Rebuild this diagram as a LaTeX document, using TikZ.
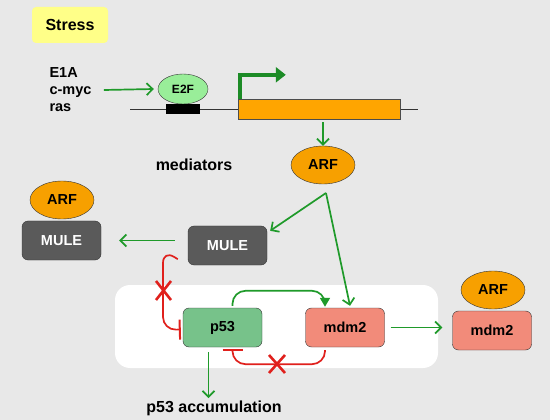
\documentclass[tikz,border=0pt]{standalone}
\usepackage{fontspec}
\setmainfont{Liberation Sans}
\usetikzlibrary{arrows.meta,shapes.geometric}
\definecolor{bgc}{HTML}{E8E8E8}
\definecolor{yel}{HTML}{FFFF88}
\definecolor{lgreen}{HTML}{99EE99}
\definecolor{orng}{HTML}{FFA500}
\definecolor{arfc}{HTML}{F7A000}
\definecolor{mulec}{HTML}{5A5A5A}
\definecolor{p53c}{HTML}{77C28A}
\definecolor{mdmc}{HTML}{F28B7A}
\definecolor{garr}{HTML}{1F9A2A}
\definecolor{rinh}{HTML}{E0201C}
\begin{document}
\begin{tikzpicture}[x=1pt,y=-1pt,
  lbl/.style={font=\bfseries\fontsize{14.5}{17}\selectfont},
  biglbl/.style={font=\bfseries\fontsize{16}{19}\selectfont},
  stressbox/.style={fill=yel,rounded corners=4pt,minimum width=76pt,minimum height=36pt,font=\bfseries\fontsize{16}{19}\selectfont},
  e2fnode/.style={ellipse,draw=black!80,fill=lgreen,minimum width=50pt,minimum height=30pt,inner sep=0pt,font=\bfseries\fontsize{12}{14}\selectfont},
  arfnode/.style={ellipse,draw=black!80,fill=arfc,minimum width=64pt,minimum height=38pt,inner sep=0pt,lbl},
  genebox/.style={draw=black!70,fill=orng,minimum width=162pt,minimum height=20pt,inner sep=0pt},
  site/.style={fill=black,minimum width=34pt,minimum height=10pt,inner sep=0pt},
  protbox/.style={draw=black!80,rounded corners=6pt,minimum width=79pt,minimum height=39pt,inner sep=0pt,lbl},
  mulebox/.style={protbox,fill=mulec,text=white},
  p53box/.style={protbox,fill=p53c},
  mdmbox/.style={protbox,fill=mdmc},
  panel/.style={fill=white,rounded corners=15pt,minimum width=323pt,minimum height=83pt,inner sep=0pt},
  garrow/.style={draw=garr,line width=1.7pt,-{Straight Barb[length=6pt,width=12pt]}},
  gcurve/.style={draw=garr,line width=1.7pt,rounded corners=13pt,-{Triangle[length=9pt,width=10pt]}},
  promoter/.style={draw=garr!90!black,line width=4pt,-{Triangle[length=10pt,width=15pt]}},
  inhib/.style={draw=rinh,line width=1.7pt,rounded corners=13pt,-{Bar[width=20pt,line width=2pt]}},
  xmark/.style={draw=rinh,line width=2.6pt}
]
\useasboundingbox[fill=bgc] (0,0) rectangle (550,420);

% top
\node[stressbox] (stress) at (70,25) {Stress};
\node[lbl,align=left,anchor=west] (inducers) at (46,90) {E1A\\c-myc\\ras};
\node[e2fnode] (e2f) at (183,89) {E2F};
\coordinate (dnaL) at (130,109);
\coordinate (dnaR) at (418,109);
\draw[black!80,line width=0.8pt] (dnaL) -- (dnaR);
\node[site] (bsite) at (183,109) {};
\node[genebox] (gene) at (319,109) {};
\draw[promoter] ([xshift=2pt]gene.north west) |- ([xshift=48pt,yshift=24pt]gene.north west);
\draw[garrow] ([xshift=9pt]inducers.east) -- ([xshift=-4pt]e2f.west);

\node[arfnode] (arf) at (323,165) {ARF};
\draw[garrow] ([yshift=-3pt]gene.south -| arf.north) -- (arf.north);
\node[biglbl] (mediators) at (194,165) {mediators};

% MULE
\node[arfnode] (arf2) at (62,200) {ARF};
\node[mulebox] (mule1) at (61.5,240.5) {MULE};
\node[mulebox] (mule2) at (227.5,245.5) {MULE};
\coordinate (split) at (326,193);
\draw[garrow] (split) -- ([xshift=3pt,yshift=-5pt]mule2.north east);
\draw[garrow] ([xshift=-13pt,yshift=5pt]mule2.west) -- ([xshift=18pt]mule1.east);

% panel
\node[panel] (panelbg) at (276.5,326.5) {};
\node[p53box] (p53) at (222.5,327.5) {p53};
\node[mdmbox] (mdm2) at (345,327.5) {mdm2};
\draw[garrow] (split) -- ([xshift=5pt,yshift=2pt]mdm2.north);

\node[arfnode] (arf3) at (493,290) {ARF};
\node[mdmbox] (mdm2b) at (492,330.5) {mdm2};
\draw[garrow] ([xshift=6pt]mdm2.east) -- ([xshift=-10pt]mdm2b.west |- mdm2.east);

% MULE -| p53
\draw[inhib] ([xshift=-10pt,yshift=6pt]mule2.south west) -- (163,250) -- (163,330) -- ([xshift=-2pt,yshift=-2pt]p53.west);
\draw[xmark] (156,281) -- (171,300) (171,281) -- (156,300);

% p53 -> mdm2
\draw[gcurve] ([xshift=10pt,yshift=2pt]p53.north) -- ([xshift=10pt,yshift=17pt]p53.north) -- ([xshift=-20pt,yshift=17pt]mdm2.north) -- ([xshift=-20pt,yshift=1pt]mdm2.north);

% mdm2 -| p53
\draw[inhib] ([xshift=-20pt,yshift=-3pt]mdm2.south) -- ([xshift=-20pt,yshift=-17pt]mdm2.south) -- ([xshift=10pt,yshift=-17pt]p53.south) -- ([xshift=10pt,yshift=-2pt]p53.south);
\draw[xmark] (269,355) -- (285,373) (285,355) -- (269,373);

% accumulation
\node[biglbl] (accum) at (214,408) {p53 accumulation};
\draw[garrow] ([xshift=-14pt,yshift=-5pt]p53.south) -- ([xshift=-14pt,yshift=-1pt]p53.south |- accum.north);
\end{tikzpicture}
\end{document}
